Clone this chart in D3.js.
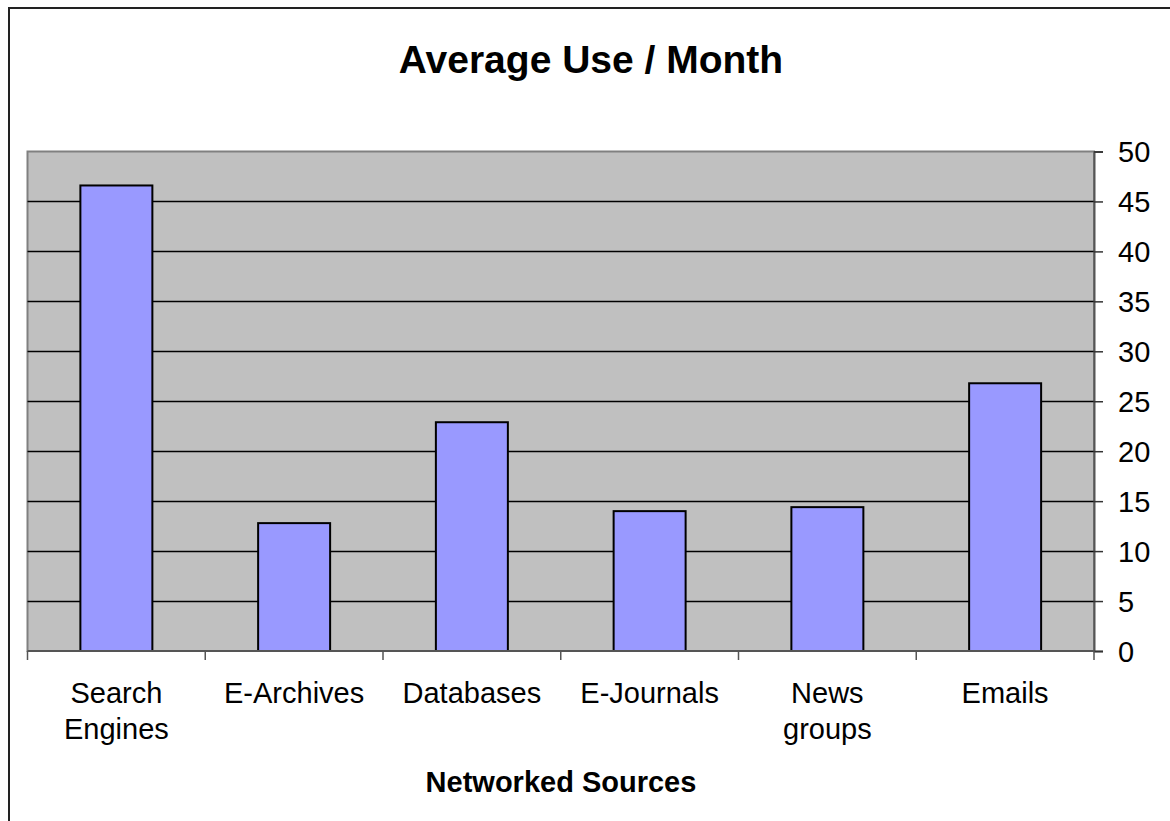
<!DOCTYPE html>
<html>
<head>
<meta charset="utf-8">
<script src="https://cdn.jsdelivr.net/npm/d3@7"></script>
<style>
  html, body { margin: 0; padding: 0; background: #fff; }
  svg { display: block; }
  text { font-family: "Liberation Sans", Arial, sans-serif; fill: #000; }
</style>
</head>
<body>
<svg id="chart" width="1170" height="821"></svg>
<script>
// Monthly average use of networked information sources
const categories = ["Search Engines", "E-Archives", "Databases", "E-Journals", "News groups", "Emails"];
const categoryLines = [["Search", "Engines"], ["E-Archives"], ["Databases"], ["E-Journals"], ["News", "groups"], ["Emails"]];
const averageUse = [46.6, 12.8, 22.9, 14.0, 14.4, 26.8];
const yTicks = [0, 5, 10, 15, 20, 25, 30, 35, 40, 45, 50];

const svg = d3.select("#chart");

// outer frame of the chart object
svg.append("rect")
  .attr("x", 9).attr("y", 8)
  .attr("width", 1180).attr("height", 840)
  .attr("fill", "#fff")
  .attr("stroke", "#222").attr("stroke-width", 2);

const plot = { left: 27.5, right: 1094, top: 151.5, bottom: 651 };

const x = d3.scaleBand()
  .domain(categories)
  .range([plot.left, plot.right])
  .paddingInner(0.595)
  .paddingOuter(0.2975);

const y = d3.scaleLinear()
  .domain([0, 50])
  .range([plot.bottom, plot.top]);

// plot background
svg.append("rect")
  .attr("x", plot.left).attr("y", plot.top)
  .attr("width", plot.right - plot.left).attr("height", plot.bottom - plot.top)
  .attr("fill", "#C0C0C0")
  .attr("stroke", "#808080").attr("stroke-width", 2);

// horizontal gridlines
svg.append("g")
  .selectAll("line")
  .data(yTicks.filter(d => d > 0 && d < 50))
  .join("line")
  .attr("x1", plot.left).attr("x2", plot.right)
  .attr("y1", d => Math.round(y(d)) + 0.5).attr("y2", d => Math.round(y(d)) + 0.5)
  .attr("stroke", "#000").attr("stroke-width", 1.3);

// bars
svg.append("g")
  .selectAll("rect")
  .data(categories)
  .join("rect")
  .attr("x", d => x(d))
  .attr("width", x.bandwidth())
  .attr("y", (d, i) => y(averageUse[i]))
  .attr("height", (d, i) => y(0) - y(averageUse[i]))
  .attr("fill", "#9999FF")
  .attr("stroke", "#000").attr("stroke-width", 2);

// right value axis
const yAxis = d3.axisRight(y).tickValues(yTicks).tickSize(9).tickPadding(15);
const yg = svg.append("g")
  .attr("transform", `translate(${plot.right},0)`)
  .call(yAxis);
yg.select(".domain").attr("stroke", "#555").attr("stroke-width", 2);
yg.selectAll(".tick line").attr("stroke", "#333").attr("stroke-width", 1.5);
yg.selectAll(".tick text")
  .attr("font-size", 29)
  .attr("font-family", "Liberation Sans, Arial, sans-serif")
  .attr("fill", "#000")
  .attr("dy", "0.36em");

// category axis along the bottom
const step = x.step();
const boundaries = d3.range(categories.length + 1).map(i => x.range()[0] + i * step);
const xg = svg.append("g");
xg.append("line")
  .attr("x1", plot.left).attr("x2", plot.right)
  .attr("y1", plot.bottom).attr("y2", plot.bottom)
  .attr("stroke", "#555").attr("stroke-width", 2);
xg.selectAll("line.tick")
  .data(boundaries)
  .join("line")
  .attr("class", "tick")
  .attr("x1", d => d).attr("x2", d => d)
  .attr("y1", plot.bottom).attr("y2", plot.bottom + 9)
  .attr("stroke", "#555").attr("stroke-width", 1.5);

const labels = xg.selectAll("text.cat")
  .data(categories)
  .join("text")
  .attr("class", "cat")
  .attr("text-anchor", "middle")
  .attr("font-size", 29)
  .attr("x", d => x(d) + x.bandwidth() / 2)
  .attr("y", 703);
labels.each(function(d, i) {
  d3.select(this).selectAll("tspan")
    .data(categoryLines[i])
    .join("tspan")
    .attr("x", x(d) + x.bandwidth() / 2)
    .attr("dy", (t, j) => j === 0 ? 0 : 36)
    .text(t => t);
});

// titles
svg.append("text")
  .attr("x", 591).attr("y", 73)
  .attr("text-anchor", "middle")
  .attr("font-size", 39).attr("font-weight", "bold")
  .text("Average Use / Month");

svg.append("text")
  .attr("x", 561).attr("y", 792)
  .attr("text-anchor", "middle")
  .attr("font-size", 29).attr("font-weight", "bold")
  .text("Networked Sources");
</script>
</body>
</html>
